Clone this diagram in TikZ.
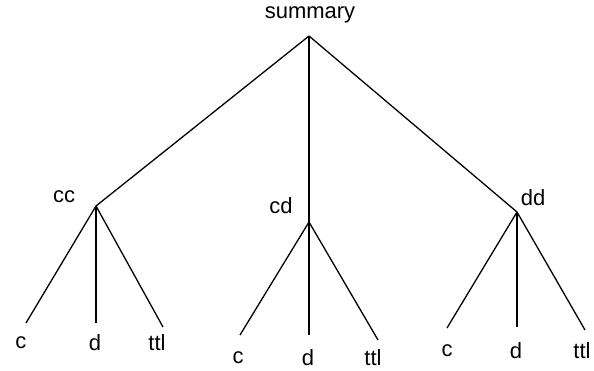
\documentclass[tikz,border=0pt]{standalone}
\usepackage{fontspec}
\setmainfont{Liberation Sans}
\begin{document}
\begin{tikzpicture}[x=1pt,y=-1pt,
  lbl/.style={inner sep=0pt,font=\fontsize{22}{22}\selectfont},
  edge/.style={draw=black,line width=1.3pt}]
\useasboundingbox (0,0) rectangle (594,371);
% labels
\node[lbl] (tsum) at (310,15) {summary};
\node[lbl] (tcc) at (64,197) {cc};
\node[lbl] (tcd) at (281,206) {cd};
\node[lbl] (tdd) at (533,198) {dd};
\node[lbl] (t1c) at (21,343) {c};
\node[lbl] (t1d) at (95,343) {d};
\node[lbl] (t1t) at (157,343) {ttl};
\node[lbl] (t2c) at (238,358) {c};
\node[lbl] (t2d) at (308,358) {d};
\node[lbl] (t2t) at (373,358) {ttl};
\node[lbl] (t3c) at (447,351) {c};
\node[lbl] (t3d) at (516,351) {d};
\node[lbl] (t3t) at (582,351) {ttl};
% junctions
\coordinate (root) at (309,36);
\coordinate (cc) at (96,206);
\coordinate (cd) at (309,222);
\coordinate (dd) at (517,212);
% leaf ends
\coordinate (l1c) at (26,323);
\coordinate (l1d) at (96,323);
\coordinate (l1t) at (163,327);
\coordinate (l2c) at (240,335);
\coordinate (l2d) at (309,335);
\coordinate (l2t) at (378,340);
\coordinate (l3c) at (447,328);
\coordinate (l3d) at (517,327);
\coordinate (l3t) at (585,330);
% edges
\draw[edge] (root) -- (cc);
\draw[edge] (root) -- (cd);
\draw[edge] (root) -- (dd);
\draw[edge] (cc) -- (l1c);
\draw[edge] (cc) -- (l1d);
\draw[edge] (cc) -- (l1t);
\draw[edge] (cd) -- (l2c);
\draw[edge] (cd) -- (l2d);
\draw[edge] (cd) -- (l2t);
\draw[edge] (dd) -- (l3c);
\draw[edge] (dd) -- (l3d);
\draw[edge] (dd) -- (l3t);
\end{tikzpicture}
\end{document}
